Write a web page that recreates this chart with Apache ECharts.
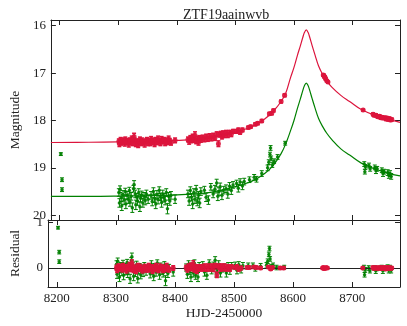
<!DOCTYPE html>
<html><head><meta charset="utf-8">
<script src="https://cdn.jsdelivr.net/npm/echarts@6/dist/echarts.min.js"></script>
<style>html,body{margin:0;padding:0;background:#fff}#c{width:407px;height:326px}</style>
</head><body><div id="c"></div>
<script>
const chartTitle = 'ZTF19aainwvb';
const xTicks = [8200, 8300, 8400, 8500, 8600, 8700];
const magTicks = [16, 17, 18, 19, 20];
const resTicks = [0, 1];

// model curves
const modelDays = [8185,8250,8300,8350,8400,8430,8460,8490,8510,8530,8550,8565,8578,8586,8594,8600,8606,8611,8615,8618,8621,8624,8627,8631,8636,8642,8649,8656,8665,8680,8695,8715,8740,8760,8781];
const modelR = [18.465,18.46,18.452,18.44,18.42,18.40,18.36,18.28,18.21,18.12,17.97,17.80,17.60,17.42,17.10,16.88,16.62,16.42,16.25,16.14,16.09,16.14,16.25,16.42,16.62,16.85,17.03,17.17,17.30,17.47,17.60,17.77,17.90,17.97,18.04];
const modelG = [19.60,19.60,19.595,19.585,19.57,19.55,19.51,19.43,19.36,19.27,19.12,18.94,18.70,18.49,18.22,18.00,17.74,17.54,17.37,17.26,17.21,17.26,17.37,17.54,17.74,17.96,18.13,18.27,18.41,18.60,18.73,18.90,19.03,19.11,19.17];

// red (r-band) photometry
const rDays = [8301,8302,8304,8305,8307,8309,8311,8312,8314,8316,8318,8320,8321,8323,8325,8327,8328,8330,8332,8334,8336,8337,8339,8341,8343,8345,8347,8349,8351,8353,8355,8356,8358,8360,8362,8364,8366,8368,8370,8372,8374,8376,8378,8380,8382,8384,8386,8388,8390,8397,
8419,8421,8423,8425,8427,8429,8431,8433,8435,8437,8439,8441,8444,8447,8450,8453,8456,8459,8462,8465,8468,8471,8473,8475,8477,8479,8481,8484,8487,8490,8493,8496,8502,8505,8508,8512,8522,8526,8534,8538,8545,8558,8562,8565,8578,8584,
8650,8651,8652,8653,8654,8656,8658,8718,8735,8737,8740,8743,8746,8748,8750,8752,8755,8757,8759,8761,8763,8765,8767];
const rMag = [18.44,18.49,18.41,18.46,18.45,18.42,18.48,18.40,18.46,18.44,18.50,18.42,18.45,18.39,18.48,18.34,18.42,18.49,18.44,18.51,18.45,18.40,18.47,18.42,18.46,18.50,18.44,18.41,18.47,18.43,18.48,18.40,18.45,18.42,18.49,18.41,18.46,18.39,18.43,18.48,18.40,18.44,18.41,18.47,18.42,18.46,18.39,18.43,18.47,18.42,
18.40,18.44,18.37,18.42,18.35,18.41,18.31,18.44,18.38,18.46,18.37,18.41,18.36,18.40,18.34,18.39,18.33,18.38,18.32,18.37,18.29,18.49,18.30,18.28,18.34,18.27,18.32,18.26,18.31,18.25,18.29,18.23,18.23,18.20,18.25,18.20,18.15,18.13,18.08,18.06,18.01,17.86,17.85,17.79,17.60,17.47,
17.04,17.05,17.08,17.09,17.12,17.16,17.19,17.78,17.87,17.89,17.89,17.92,17.91,17.94,17.93,17.95,17.94,17.97,17.95,17.98,17.96,17.99,17.98];
const rErr = [0.05,0.06,0.05,0.06,0.05,0.05,0.06,0.05,0.05,0.06,0.06,0.05,0.05,0.06,0.05,0.07,0.05,0.06,0.05,0.06,0.05,0.05,0.06,0.05,0.05,0.06,0.05,0.05,0.06,0.05,0.05,0.06,0.05,0.05,0.06,0.05,0.05,0.06,0.05,0.05,0.06,0.05,0.05,0.06,0.05,0.05,0.06,0.05,0.05,0.05,
0.05,0.06,0.05,0.05,0.06,0.05,0.07,0.05,0.05,0.06,0.05,0.05,0.05,0.05,0.05,0.05,0.05,0.05,0.05,0.05,0.05,0.06,0.05,0.05,0.05,0.05,0.04,0.05,0.05,0.04,0.05,0.04,0.04,0.04,0.04,0.04,0.03,0.03,0.03,0.03,0.03,0.03,0.03,0.03,0.03,0.03,
0.02,0.02,0.02,0.02,0.02,0.02,0.02,0.02,0.03,0.03,0.03,0.03,0.03,0.03,0.03,0.03,0.03,0.03,0.03,0.03,0.03,0.03,0.03];
const rRes = [0.01,-0.04,0.04,-0.01,0.00,0.03,-0.03,0.05,-0.01,0.01,-0.05,0.03,0.00,0.06,-0.03,0.11,0.03,-0.04,0.01,-0.06,0.00,0.05,-0.02,0.03,-0.01,-0.05,0.00,0.03,-0.03,0.01,-0.04,0.04,-0.01,0.02,-0.06,0.02,-0.03,0.04,0.00,-0.05,0.03,-0.01,0.02,-0.04,0.01,-0.03,0.04,0.00,-0.04,0.00,
0.01,-0.03,0.04,-0.01,0.05,-0.01,0.09,-0.04,0.02,-0.06,0.02,-0.02,0.02,-0.02,0.04,-0.02,0.04,-0.02,0.04,-0.03,0.05,-0.15,0.03,0.04,-0.02,0.04,-0.02,0.04,-0.02,0.03,-0.02,0.03,0.01,0.03,-0.03,0.00,0.01,0.01,0.02,0.01,0.00,0.02,-0.02,0.01,0.00,0.00,
0.00,0.01,-0.01,0.00,-0.01,0.01,0.00,0.00,0.01,-0.01,0.01,-0.01,0.01,-0.01,0.01,-0.01,0.01,-0.02,0.01,-0.01,0.01,-0.01,0.00];

// green (g-band) photometry
const gDays = [8202,8204,8204,
8301,8302,8303,8305,8306,8308,8310,8312,8313,8315,8317,8319,8320,8322,8324,8326,8327,8329,8330,8332,8333,8335,8337,8338,8340,8342,8344,8346,8348,8351,8356,8358,8360,8362,8364,8366,8368,8370,8372,8374,8376,8378,8380,8382,8384,8386,8388,8390,8397,
8419,8421,8423,8425,8427,8429,8431,8433,8435,8437,8439,8441,8447,8450,8454,8458,8462,8465,8468,8470,8472,8474,8477,8480,8484,8487,8490,8493,8496,8502,8505,8508,8512,8515,8524,8532,8536,8545,8555,8557,8559,8560,8561,8563,8566,8572,8585,
8720,8721,8722,8728,8730,8738,8740,8742,8750,8752,8754,8760,8762,8764,8766];
const gMag = [18.71,19.25,19.46,
19.52,19.74,19.45,19.63,19.80,19.56,19.68,19.50,19.76,19.58,19.66,19.48,19.72,19.60,19.84,19.44,19.35,19.55,19.78,19.62,19.70,19.52,19.82,19.64,19.57,19.74,19.60,19.69,19.55,19.66,19.58,19.71,19.50,19.64,19.76,19.56,19.67,19.47,19.61,19.73,19.55,19.63,19.69,19.52,19.86,19.60,19.70,19.58,19.66,
19.55,19.70,19.48,19.62,19.76,19.52,19.66,19.45,19.71,19.58,19.74,19.50,19.47,19.62,19.68,19.40,19.55,19.45,19.32,19.60,19.50,19.40,19.58,19.47,19.44,19.55,19.39,19.48,19.36,19.33,19.43,19.30,19.38,19.29,19.25,19.20,19.24,19.12,19.00,18.88,18.72,18.58,18.80,18.94,18.86,18.77,18.48,
18.92,19.08,18.98,18.95,19.02,18.99,19.06,19.02,19.05,19.12,19.08,19.10,19.16,19.12,19.18];
const gErr = [0.03,0.04,0.04,
0.08,0.09,0.07,0.08,0.10,0.08,0.09,0.07,0.10,0.08,0.09,0.07,0.09,0.08,0.10,0.07,0.08,0.08,0.10,0.08,0.09,0.08,0.10,0.08,0.08,0.09,0.08,0.09,0.08,0.09,0.08,0.09,0.08,0.09,0.10,0.08,0.09,0.07,0.08,0.10,0.08,0.09,0.09,0.08,0.11,0.08,0.09,0.08,0.09,
0.08,0.09,0.08,0.08,0.10,0.08,0.09,0.08,0.09,0.08,0.10,0.08,0.08,0.09,0.09,0.07,0.08,0.08,0.08,0.09,0.08,0.08,0.09,0.08,0.08,0.09,0.08,0.08,0.07,0.07,0.08,0.07,0.08,0.07,0.06,0.06,0.06,0.06,0.06,0.05,0.05,0.05,0.05,0.05,0.05,0.05,0.04,
0.05,0.05,0.05,0.05,0.05,0.05,0.06,0.05,0.05,0.06,0.05,0.06,0.06,0.06,0.06];
const gRes = [0.89,0.35,0.14,
0.08,-0.14,0.15,-0.03,-0.20,0.04,-0.08,0.10,-0.16,0.02,-0.06,0.12,-0.12,0.00,-0.24,0.16,0.25,0.05,-0.18,-0.02,-0.10,0.07,-0.23,-0.05,0.02,-0.15,-0.01,-0.10,0.04,-0.07,0.00,-0.13,0.08,-0.06,-0.18,0.02,-0.09,0.11,-0.03,-0.15,0.03,-0.05,-0.11,0.06,-0.28,-0.02,-0.12,0.00,-0.09,
0.01,-0.14,0.08,-0.06,-0.20,0.03,-0.11,0.10,-0.16,-0.04,-0.20,0.04,0.06,-0.09,-0.16,0.11,-0.05,0.05,0.17,-0.11,-0.02,0.08,-0.11,-0.01,0.01,-0.11,0.04,-0.06,0.05,0.06,-0.05,0.07,-0.03,0.05,0.05,0.05,-0.01,0.04,0.06,0.15,0.30,0.43,0.20,0.03,0.06,0.01,0.02,
0.01,-0.15,-0.04,0.00,-0.06,0.00,-0.06,-0.01,0.01,-0.06,-0.01,0.01,-0.05,0.00,-0.05];

const RED = '#DC143C', GREEN = '#008000', INK = '#222';
const FONT = '"Liberation Serif", "DejaVu Serif", serif';

function pts(days, vals, errs) { return days.map((d, i) => [d, vals[i], errs[i]]); }
function line(days, vals) { return days.map((d, i) => [d, vals[i]]); }

function errRender(color, lw, cap) {
  return function (params, api) {
    const x = api.value(0), y = api.value(1), e = api.value(2);
    const a = api.coord([x, y - e]), b = api.coord([x, y + e]);
    const st = { stroke: color, lineWidth: lw };
    return { type: 'group', children: [
      { type: 'line', shape: { x1: a[0], y1: a[1], x2: b[0], y2: b[1] }, style: st },
      { type: 'line', shape: { x1: a[0] - cap, y1: a[1], x2: a[0] + cap, y2: a[1] }, style: st },
      { type: 'line', shape: { x1: b[0] - cap, y1: b[1], x2: b[0] + cap, y2: b[1] }, style: st }
    ]};
  };
}

function xAx(grid, pos, labels, name) {
  return {
    type: 'value', gridIndex: grid, position: pos, min: 8185, max: 8781,
    axisLine: { onZero: false, lineStyle: { color: INK, width: 1 } },
    axisTick: { inside: true, length: 5, customValues: xTicks, lineStyle: { color: INK } },
    axisLabel: labels ? { customValues: xTicks, margin: 5, fontSize: 13, fontFamily: FONT, color: INK,
      formatter: v => String(v) } : { show: false },
    splitLine: { show: false },
    name: name || '', nameLocation: 'middle', nameGap: 19.5,
    nameTextStyle: { fontSize: 13.5, fontFamily: FONT, color: INK }
  };
}
function yAx(grid, pos, opts) {
  return Object.assign({
    type: 'value', gridIndex: grid, position: pos,
    axisLine: { onZero: false, lineStyle: { color: INK, width: 1 } },
    splitLine: { show: false },
    nameLocation: 'middle', nameRotate: 90,
    nameTextStyle: { fontSize: 13.5, fontFamily: FONT, color: INK }
  }, opts);
}

const chart = echarts.init(document.getElementById('c'), null, { renderer: 'canvas' });
chart.setOption({
  animation: false,
  backgroundColor: '#fff',
  title: { text: chartTitle, left: 178, top: 3,
    textStyle: { fontSize: 14, fontWeight: 'normal', fontFamily: FONT, color: INK } },
  grid: [
    { left: 43, right: 7, top: 20, height: 200 },
    { left: 43, right: 7, top: 220, height: 67 }
  ],
  xAxis: [
    xAx(0, 'bottom', false), xAx(0, 'top', false),
    xAx(1, 'bottom', true, 'HJD-2450000'), xAx(1, 'top', false)
  ],
  yAxis: [
    yAx(0, 'left', { inverse: true, min: 15.88, max: 20.1, name: 'Magnitude', nameGap: 20,
      axisTick: { inside: true, length: 5, customValues: magTicks, lineStyle: { color: INK } },
      axisLabel: { customValues: magTicks, margin: 5, fontSize: 13, fontFamily: FONT, color: INK } }),
    yAx(0, 'right', { inverse: true, min: 15.88, max: 20.1,
      axisTick: { inside: true, length: 5, customValues: magTicks, lineStyle: { color: INK } },
      axisLabel: { show: false } }),
    yAx(1, 'left', { min: -0.42, max: 1.06, name: 'Residual', nameGap: 26,
      axisTick: { inside: true, length: 5, customValues: resTicks, lineStyle: { color: INK } },
      axisLabel: { customValues: resTicks, margin: 5, fontSize: 13, fontFamily: FONT, color: INK } }),
    yAx(1, 'right', { min: -0.42, max: 1.06,
      axisTick: { inside: true, length: 5, customValues: resTicks, lineStyle: { color: INK } },
      axisLabel: { show: false } })
  ],
  series: [
    { type: 'line', xAxisIndex: 0, yAxisIndex: 0, data: line(modelDays, modelR), showSymbol: false, smooth: 0.4,
      lineStyle: { color: RED, width: 1.2 }, z: 1 },
    { type: 'line', xAxisIndex: 0, yAxisIndex: 0, data: line(modelDays, modelG), showSymbol: false, smooth: 0.4,
      lineStyle: { color: GREEN, width: 1.2 }, z: 1 },
    { type: 'custom', xAxisIndex: 0, yAxisIndex: 0, data: pts(gDays, gMag, gErr), renderItem: errRender(GREEN, 1, 2), z: 2 },
    { type: 'scatter', xAxisIndex: 0, yAxisIndex: 0, data: pts(gDays, gMag, gErr), symbol: 'circle', symbolSize: 3.5,
      itemStyle: { color: GREEN, opacity: 0.9 }, z: 3 },
    { type: 'custom', xAxisIndex: 0, yAxisIndex: 0, data: pts(rDays, rMag, rErr), renderItem: errRender(RED, 1.5, 2), z: 2 },
    { type: 'scatter', xAxisIndex: 0, yAxisIndex: 0, data: pts(rDays, rMag, rErr), symbol: 'circle', symbolSize: 5,
      itemStyle: { color: RED, opacity: 0.9 }, z: 3 },
    // residuals
    { type: 'line', xAxisIndex: 2, yAxisIndex: 2, data: [], z: 1,
      markLine: { silent: true, symbol: ['none', 'none'], label: { show: false },
        lineStyle: { color: INK, width: 1, type: 'solid' }, data: [{ yAxis: 0 }] } },
    { type: 'custom', xAxisIndex: 2, yAxisIndex: 2, data: pts(gDays, gRes, gErr), renderItem: errRender(GREEN, 1, 2), z: 2 },
    { type: 'scatter', xAxisIndex: 2, yAxisIndex: 2, data: pts(gDays, gRes, gErr), symbol: 'circle', symbolSize: 3.5,
      itemStyle: { color: GREEN, opacity: 0.9 }, z: 3 },
    { type: 'custom', xAxisIndex: 2, yAxisIndex: 2, data: pts(rDays, rRes, rErr), renderItem: errRender(RED, 1.5, 2), z: 4 },
    { type: 'scatter', xAxisIndex: 2, yAxisIndex: 2, data: pts(rDays, rRes, rErr), symbol: 'circle', symbolSize: 5,
      itemStyle: { color: RED, opacity: 0.9 }, z: 5 }
  ]
});
</script></body></html>
